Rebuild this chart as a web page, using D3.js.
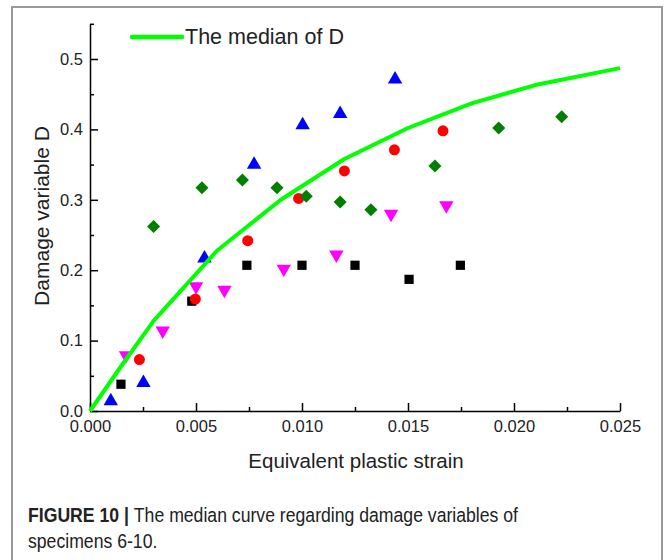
<!DOCTYPE html>
<html>
<head>
<meta charset="utf-8">
<script src="https://cdn.jsdelivr.net/npm/d3@7"></script>
<style>
  body { margin: 0; background: #fff; }
  svg { display: block; }
  text { font-family: "Liberation Sans", Arial, sans-serif; }
</style>
</head>
<body>
<script>
// specimen data: [strain, D]
var squares = [[0.00146, 0.038], [0.0048, 0.156], [0.0074, 0.207], [0.0100, 0.207], [0.0125, 0.207], [0.01505, 0.187], [0.01747, 0.207]];
var circles = [[0.00233, 0.073], [0.00497, 0.159], [0.00744, 0.242], [0.00984, 0.302], [0.0120, 0.341], [0.01436, 0.371], [0.01665, 0.398]];
var upTriangles = [[0.00098, 0.014], [0.00252, 0.040], [0.0054, 0.217], [0.00774, 0.350], [0.01003, 0.406], [0.0118, 0.422], [0.01439, 0.471]];
var diamonds = [[0.0030, 0.262], [0.00528, 0.317], [0.00719, 0.328], [0.00882, 0.317], [0.0102, 0.305], [0.0118, 0.297], [0.01325, 0.286], [0.01627, 0.348], [0.01928, 0.402], [0.02225, 0.418]];
var downTriangles = [[0.0017, 0.079], [0.00343, 0.114], [0.0050, 0.177], [0.00634, 0.172], [0.00914, 0.202], [0.01162, 0.222], [0.0142, 0.280], [0.01681, 0.292]];

var medianX = [0, 0.0015, 0.003, 0.006, 0.009, 0.012, 0.015, 0.018, 0.021, 0.025];
var medianY = [0, 0.065, 0.128, 0.228, 0.300, 0.358, 0.402, 0.437, 0.463, 0.487];

var xTicks = [0, 0.005, 0.010, 0.015, 0.020, 0.025];
var yTicks = [0, 0.1, 0.2, 0.3, 0.4, 0.5];

var width = 665,
    height = 560;

var svg = d3.select("body").append("svg")
    .attr("width", width)
    .attr("height", height);

// figure frame (runs off the bottom)
svg.append("path")
    .attr("d", "M12,600 V7 H662 V600")
    .attr("fill", "none")
    .attr("stroke", "#999")
    .attr("stroke-width", 2);

var x = d3.scaleLinear().domain([0, 0.025]).range([90, 620]);
var y = d3.scaleLinear().domain([0, 0.55]).range([411, 23.8]);

// axes, ticks inward
var xAxis = svg.append("g")
    .attr("transform", "translate(0,411)")
    .call(d3.axisBottom(x).tickValues(d3.range(0, 0.02501, 0.0025)).tickSize(-4).tickSizeOuter(0).tickFormat(""));
xAxis.selectAll(".tick line").filter(function(d, i) { return i % 2 == 0; }).attr("y2", -8);

var xLabels = svg.append("g")
    .attr("transform", "translate(0,411)")
    .call(d3.axisBottom(x).tickValues(xTicks).tickSize(0).tickPadding(9).tickFormat(d3.format(".3f")));
xLabels.select(".domain").remove();

var yAxis = svg.append("g")
    .attr("transform", "translate(90,0)")
    .call(d3.axisLeft(y).tickValues(d3.range(0, 0.5501, 0.05)).tickSize(-4).tickSizeOuter(0).tickFormat(""));
yAxis.selectAll(".tick line").filter(function(d, i) { return i % 2 == 0; }).attr("x2", 8);

var yLabels = svg.append("g")
    .attr("transform", "translate(90,0)")
    .call(d3.axisLeft(y).tickValues(yTicks).tickSize(0).tickPadding(7).tickFormat(d3.format(".1f")));
yLabels.select(".domain").remove();

svg.selectAll(".domain, .tick line").attr("stroke", "#000").attr("stroke-width", 1.5);
svg.selectAll(".tick text")
    .attr("fill", "#222")
    .style("font-size", "16.5px")
    .style("font-family", "'Liberation Sans', Arial, sans-serif");

// titles
svg.append("text")
    .attr("x", 356)
    .attr("y", 468)
    .attr("text-anchor", "middle")
    .style("font-size", "20.5px")
    .attr("fill", "#222")
    .text("Equivalent plastic strain");

svg.append("text")
    .attr("transform", "translate(49,216) rotate(-90)")
    .attr("text-anchor", "middle")
    .style("font-size", "21px")
    .attr("fill", "#222")
    .text("Damage variable D");

// scatter markers
function plot(data, shape, size, color, rot) {
  svg.append("g").selectAll("path")
      .data(data)
    .enter().append("path")
      .attr("d", d3.symbol().type(shape).size(size))
      .attr("transform", function(d) {
        return "translate(" + x(d[0]) + "," + y(d[1]) + ")" + (rot ? " rotate(" + rot + ")" : "");
      })
      .attr("fill", color);
}

plot(squares, d3.symbolSquare, 85, "#000");
plot(circles, d3.symbolCircle, 95, "#ff0000");
plot(upTriangles, d3.symbolTriangle, 90, "#0000ff");
plot(diamonds, d3.symbolSquare, 85, "#007f00", 45);
plot(downTriangles, d3.symbolTriangle, 90, "#ff00ff", 180);

// median curve
var line = d3.line()
    .x(function(d) { return x(d); })
    .y(function(d, i) { return y(medianY[i]); });

svg.append("path")
    .datum(medianX)
    .attr("d", line)
    .attr("fill", "none")
    .attr("stroke", "#00ff00")
    .attr("stroke-width", 4)
    .attr("stroke-linejoin", "round");

// legend
svg.append("line")
    .attr("x1", 132).attr("x2", 182)
    .attr("y1", 37).attr("y2", 37)
    .attr("stroke", "#00ff00")
    .attr("stroke-width", 4.5)
    .attr("stroke-linecap", "round");

svg.append("text")
    .attr("x", 185)
    .attr("y", 44)
    .style("font-size", "21.5px")
    .attr("fill", "#222")
    .text("The median of D");

// caption (condensed look)
var caption = svg.append("text")
    .attr("transform", "translate(28,0) scale(0.905,1)")
    .style("font-size", "19.5px")
    .attr("fill", "#222");

var l1 = caption.append("tspan").attr("x", 0).attr("y", 522);
l1.append("tspan").style("font-weight", "bold").text("FIGURE 10 | ");
l1.append("tspan").text("The median curve regarding damage variables of");
caption.append("tspan").attr("x", 0).attr("y", 548).text("specimens 6-10.");
</script>
</body>
</html>
